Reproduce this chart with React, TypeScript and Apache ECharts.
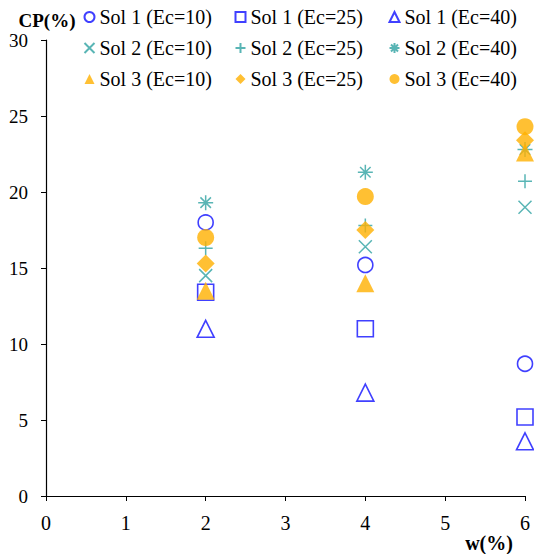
import React, { useEffect, useRef } from "react";
import * as echarts from "echarts";

// Moisture content w(%) at which each soil was tested
const wValues = [2, 4, 6];

// Collapse potential CP(%) per soil and compaction energy Ec
const sol1Ec10 = [18.0, 15.2, 8.7];
const sol1Ec25 = [13.4, 11.0, 5.2];
const sol1Ec40 = [11.0, 6.8, 3.6];
const sol2Ec10 = [14.5, 16.4, 19.0];
const sol2Ec25 = [16.3, 17.8, 20.7];
const sol2Ec40 = [19.3, 21.3, 22.8];
const sol3Ec10 = [13.5, 14.0, 22.6];
const sol3Ec25 = [15.3, 17.5, 23.4];
const sol3Ec40 = [17.0, 19.7, 24.3];

const yTicks = [0, 5, 10, 15, 20, 25, 30];
const xTicks = [0, 1, 2, 3, 4, 5, 6];

const BLUE = "#1010ff";
const TEAL = "#2fa3a3";
const ORANGE = "#ffb000";
const FONT = "'Liberation Serif', serif";

const X_PATH = "path://M0,0L10,10M10,0L0,10";
const PLUS_PATH = "path://M0,5L10,5M5,0L5,10";
const STAR_PATH = "path://M0,5L10,5M5,0L5,10M1.5,1.5L8.5,8.5M8.5,1.5L1.5,8.5";

const toPoints = (vals: number[]) => vals.map((v, i) => [wValues[i], v]);

type Spec = { name: string; data: number[]; symbol: string; size: number; kind: "hollow" | "line" | "filled"; color: string };

const specs: Spec[] = [
  { name: "Sol 1 (Ec=10)", data: sol1Ec10, symbol: "circle", size: 15, kind: "hollow", color: BLUE },
  { name: "Sol 1 (Ec=25)", data: sol1Ec25, symbol: "rect", size: 16, kind: "hollow", color: BLUE },
  { name: "Sol 1 (Ec=40)", data: sol1Ec40, symbol: "triangle", size: 17, kind: "hollow", color: BLUE },
  { name: "Sol 2 (Ec=10)", data: sol2Ec10, symbol: X_PATH, size: 13, kind: "line", color: TEAL },
  { name: "Sol 2 (Ec=25)", data: sol2Ec25, symbol: PLUS_PATH, size: 14, kind: "line", color: TEAL },
  { name: "Sol 2 (Ec=40)", data: sol2Ec40, symbol: STAR_PATH, size: 15, kind: "line", color: TEAL },
  { name: "Sol 3 (Ec=10)", data: sol3Ec10, symbol: "triangle", size: 18, kind: "filled", color: ORANGE },
  { name: "Sol 3 (Ec=25)", data: sol3Ec25, symbol: "diamond", size: 18, kind: "filled", color: ORANGE },
  { name: "Sol 3 (Ec=40)", data: sol3Ec40, symbol: "circle", size: 17, kind: "filled", color: ORANGE },
];

const itemStyleFor = (s: Spec) => {
  if (s.kind === "hollow") return { color: "none", borderColor: s.color, borderWidth: 1.6 };
  if (s.kind === "line") return { color: "none", borderColor: s.color, borderWidth: 1.5 };
  return { color: s.color, borderWidth: 0 };
};

// One legend block per column, three rows each
const legendColumn = (names: string[], left: number) => ({
  orient: "vertical",
  left,
  top: 7,
  padding: 0,
  itemGap: 11,
  itemWidth: 10,
  itemHeight: 10,
  data: names,
  textStyle: { fontFamily: FONT, fontSize: 20, color: "#000" },
});

export default function App() {
  const ref = useRef<HTMLDivElement>(null);

  useEffect(() => {
    if (!ref.current) return;
    const chart = echarts.init(ref.current, undefined, { renderer: "svg" });
    chart.setOption({
      animation: false,
      backgroundColor: "#fff",
      textStyle: { fontFamily: FONT },
      legend: [
        legendColumn([specs[0].name, specs[3].name, specs[6].name], 82),
        legendColumn([specs[1].name, specs[4].name, specs[7].name], 233),
        legendColumn([specs[2].name, specs[5].name, specs[8].name], 387),
      ],
      grid: { left: 46, right: 9, top: 40, bottom: 58 },
      xAxis: {
        type: "value",
        min: xTicks[0],
        max: xTicks[xTicks.length - 1],
        interval: 1,
        axisLine: { lineStyle: { color: "#000", width: 1.2 } },
        axisTick: { show: true, length: 5, lineStyle: { color: "#000" } },
        splitLine: { show: false },
        axisLabel: { fontFamily: FONT, fontSize: 20, color: "#000", margin: 17 },
      },
      yAxis: {
        type: "value",
        min: yTicks[0],
        max: yTicks[yTicks.length - 1],
        interval: 5,
        axisLine: { show: true, lineStyle: { color: "#000", width: 1.2 } },
        axisTick: { show: true, length: 5, lineStyle: { color: "#000" } },
        splitLine: { show: false },
        axisLabel: { fontFamily: FONT, fontSize: 19, color: "#000", margin: 18 },
      },
      graphic: [
        {
          type: "text",
          x: 47,
          y: 20,
          style: {
            text: "CP(%)",
            font: `bold 19px ${FONT}`,
            fill: "#000",
            align: "center",
            verticalAlign: "middle",
          },
        },
        {
          type: "text",
          x: 489,
          y: 543,
          style: {
            text: "w(%)",
            font: `bold 20px ${FONT}`,
            fill: "#000",
            align: "center",
            verticalAlign: "middle",
          },
        },
      ],
      series: specs.map((s) => ({
        name: s.name,
        type: "scatter",
        symbol: s.symbol,
        symbolSize: s.size,
        itemStyle: itemStyleFor(s),
        data: toPoints(s.data),
      })),
    });
    return () => chart.dispose();
  }, []);

  return (
    <div
      ref={ref}
      style={{ position: "fixed", left: 0, top: 0, width: 534, height: 554, background: "#fff" }}
    />
  );
}
